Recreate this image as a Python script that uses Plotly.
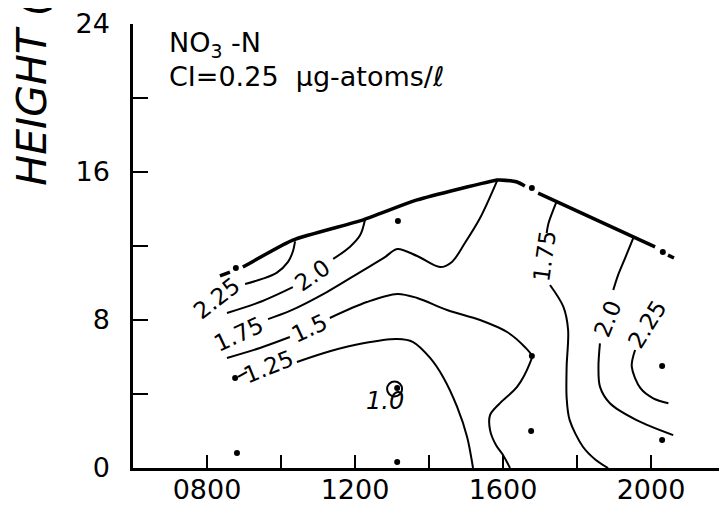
import plotly.graph_objects as go

# ---- data (time in hours, height in m) ----
station_time = [8.78, 8.76, 8.81, 13.16, 13.14, 13.14, 16.78, 16.78, 16.76, 20.32, 20.30, 20.30]
station_height = [10.81, 4.86, 0.81, 13.35, 4.32, 0.32, 15.14, 6.05, 2.00, 11.68, 5.51, 1.51]

boundary_time = [8.35, 8.62, None, 8.97, 10.32, 12.22, 13.68, 15.84, 15.92, 16.38, 16.59, None, 16.95, 20.11, None, 20.46, 20.62]
boundary_height = [10.38, 10.59, None, 10.86, 12.32, 13.41, 14.49, 15.57, 15.57, 15.46, 15.24, None, 14.86, 11.95, None, 11.51, 11.35]

c225_left_time = [9.03, 9.49, 9.89, 10.19, 10.32, 10.38]
c225_left_height = [9.95, 10.22, 10.56, 11.14, 11.70, 12.25]

c200_left_time = [8.54, 9.43, 10.32, None, 11.41, 11.86, 12.14, 12.27]
c200_left_height = [8.38, 8.97, 9.78, None, 11.30, 11.95, 12.59, 13.42]

c175_left_time = [9.65, 10.24, 11.24, 12.14, 12.81, 13.14, 13.68, 14.30, 14.62, 14.97, 15.38, 15.84]
c175_left_height = [8.05, 8.49, 9.51, 10.59, 11.40, 11.84, 11.46, 10.86, 11.14, 12.16, 13.51, 15.52]

c150_time = [8.54, 9.43, 10.24, None, 11.32, 12.32, 13.14, 13.68, 14.49, 15.38, 16.11, 16.59, 16.78,
             16.73, 16.38, 15.92, 15.65, 15.65, 15.81, 16.00, 16.19]
c150_height = [5.95, 6.49, 7.08, None, 8.11, 8.97, 9.41, 9.19, 8.54, 8.00, 7.35, 6.54, 6.05,
               5.68, 4.38, 3.51, 2.86, 2.05, 1.24, 0.70, 0.0]

c125_time = [8.84, 9.08, None, 10.43, 11.32, 12.22, 13.14, 13.57, 14.03, 14.38, 14.76, 15.03, 15.19]
c125_height = [4.92, 5.19, None, 5.73, 6.31, 6.74, 6.97, 6.81, 5.95, 4.92, 3.30, 1.68, 0.0]

c175_right_time = [17.45, 17.23, 17.18, None, 17.27, 17.63, 17.76, 17.72, 17.72, 17.80, 18.16, 18.50, 18.84]
c175_right_height = [14.41, 13.23, 12.70, None, 9.89, 8.72, 7.46, 5.48, 3.80, 2.60, 1.15, 0.45, 0.0]

c200_right_time = [19.52, 19.30, 19.11, 18.98, None, 18.62, 18.58, 18.62, 18.89, 19.61, 20.60]
c200_right_height = [12.42, 11.35, 10.43, 9.62, None, 6.74, 5.48, 4.40, 3.50, 2.59, 1.78]

c225_right_time = [19.57, 19.48, 19.72, 20.06, 20.47]
c225_right_height = [6.38, 5.48, 4.30, 3.77, 3.50]

label_text = ["2.25", "2.0", "1.75", "1.5", "1.25", "1.75", "2.0", "2.25"]
label_time = [8.27, 10.86, 8.86, 10.78, 9.65, 17.11, 18.82, 19.91]
label_height = [9.19, 10.43, 7.24, 7.57, 5.46, 11.43, 8.08, 7.76]
label_angle = [-38, -35, -25, -25, -22, -82, -68, -58]

min_label_text = "1.0"
min_label_time = 12.80
min_label_height = 3.60
min_loop_time = [13.07]
min_loop_height = [4.27]

x_tickvals = [8, 10, 12, 14, 16, 18, 20, 22]
x_ticktext = ["0800", "", "1200", "", "1600", "", "2000", ""]
y_tickvals = [0, 4, 8, 12, 16, 20, 24]
y_ticktext = ["0", "", "8", "", "16", "", "24"]

FONT = "DejaVu Sans"
fig = go.Figure()

contours = [
    (c225_left_time, c225_left_height), (c200_left_time, c200_left_height),
    (c175_left_time, c175_left_height), (c150_time, c150_height),
    (c125_time, c125_height), (c175_right_time, c175_right_height),
    (c200_right_time, c200_right_height), (c225_right_time, c225_right_height),
]
for t, h in contours:
    fig.add_trace(go.Scatter(x=t, y=h, mode="lines", connectgaps=False,
                             line=dict(color="black", width=2, shape="spline", smoothing=0.9),
                             hoverinfo="skip", showlegend=False))

fig.add_trace(go.Scatter(x=boundary_time, y=boundary_height, mode="lines", connectgaps=False,
                         line=dict(color="black", width=3.5, shape="spline", smoothing=0.5),
                         hoverinfo="skip", showlegend=False))

fig.add_trace(go.Scatter(x=station_time, y=station_height, mode="markers",
                         marker=dict(color="black", size=6), showlegend=False))
fig.add_trace(go.Scatter(x=min_loop_time, y=min_loop_height, mode="markers",
                         marker=dict(symbol="circle-open", color="black", size=15,
                                     line=dict(width=2, color="black")), showlegend=False))

for txt, t, h, a in zip(label_text, label_time, label_height, label_angle):
    fig.add_annotation(x=t, y=h, text=txt, textangle=a, showarrow=False,
                       font=dict(family=FONT, size=23, color="black"))
fig.add_annotation(x=min_label_time, y=min_label_height, text=min_label_text, showarrow=False,
                   font=dict(family=FONT, size=24, color="black", style="italic"))

fig.add_annotation(xref="paper", yref="paper", x=0.057, y=0.953, xanchor="left", yanchor="middle",
                   text="NO<sub>3</sub> -N", showarrow=False,
                   font=dict(family=FONT, size=27, color="black"))
fig.add_annotation(xref="paper", yref="paper", x=0.057, y=0.882, xanchor="left", yanchor="middle",
                   text="CI=0.25  μg-atoms/ℓ", showarrow=False,
                   font=dict(family=FONT, size=27, color="black"))
fig.add_annotation(xref="paper", yref="paper", x=-0.172, y=0.6306, xanchor="center", yanchor="bottom",
                   text="HEIGHT (m)", textangle=-90, showarrow=False,
                   font=dict(family=FONT, size=41, color="black", style="italic"))

axis_common = dict(showgrid=False, zeroline=False, showline=True, linecolor="black", linewidth=2.5,
                   ticks="inside", tickcolor="black", tickwidth=2, automargin=False,
                   tickfont=dict(family=FONT, size=27, color="black"))
fig.update_xaxes(range=[6, 22], tickvals=x_tickvals, ticktext=x_ticktext, ticklen=13,
                 ticklabelstandoff=-4, **axis_common)
fig.update_yaxes(range=[0, 24], tickvals=y_tickvals, ticktext=y_ticktext, ticklen=15,
                 ticklabelstandoff=15, **axis_common)

# the page body has an 8px margin, so margins are offset to place the plot area
fig.update_layout(width=719, height=498, margin=dict(l=125, r=2, t=16, b=38, autoexpand=False),
                  paper_bgcolor="white", plot_bgcolor="white", showlegend=False)
fig.write_html("out.html")
